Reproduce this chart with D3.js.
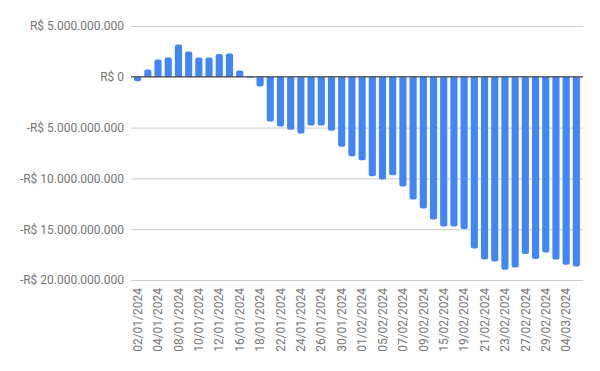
<!DOCTYPE html>
<html>
<head>
<meta charset="utf-8">
<script src="https://cdn.jsdelivr.net/npm/d3@7"></script>
<style>
  body { margin: 0; background: #fff; }
  svg text { font-family: Roboto, Arial, sans-serif; }
</style>
</head>
<body>
<div class="viz"></div>
<script>
// business days, jan-mar 2024
const dates = [
  '02/01/2024', '03/01/2024', '04/01/2024', '05/01/2024', '08/01/2024', '09/01/2024',
  '10/01/2024', '11/01/2024', '12/01/2024', '15/01/2024', '16/01/2024', '17/01/2024',
  '18/01/2024', '19/01/2024', '22/01/2024', '23/01/2024', '24/01/2024', '25/01/2024',
  '26/01/2024', '29/01/2024', '30/01/2024', '31/01/2024', '01/02/2024', '02/02/2024',
  '05/02/2024', '06/02/2024', '07/02/2024', '08/02/2024', '09/02/2024', '14/02/2024',
  '15/02/2024', '16/02/2024', '19/02/2024', '20/02/2024', '21/02/2024', '22/02/2024',
  '23/02/2024', '26/02/2024', '27/02/2024', '28/02/2024', '29/02/2024', '01/03/2024',
  '04/03/2024', '05/03/2024'
];

// saldo, in billions of R$
const values = [
  -0.43, 0.72, 1.71, 1.91, 3.19, 2.5,
  1.91, 1.91, 2.24, 2.3, 0.62, -0.1,
  -0.95, -4.41, -4.9, -5.2, -5.59, -4.8,
  -4.8, -5.3, -6.88, -7.83, -8.22, -9.8,
  -10.1, -9.7, -10.79, -12.07, -12.96, -14.05,
  -14.74, -14.74, -14.97, -16.9, -17.99, -18.19,
  -18.98, -18.78, -17.43, -17.93, -17.3, -17.99,
  -18.49, -18.68
];

const yTicks = [5, 0, -5, -10, -15, -20];

const width = 600, height = 371;
const margin = { top: 26, right: 17, bottom: 91, left: 131 };

const svg = d3.select('.viz')
  .append('svg')
  .attr('width', width)
  .attr('height', height);

const x = d3.scaleBand()
  .domain(dates)
  .range([margin.left, width - margin.right])
  .paddingInner(0.3)
  .paddingOuter(0.3);

const y = d3.scaleLinear()
  .domain([-20, 5])
  .range([height - margin.bottom, margin.top]);

const fmt = v => {
  if (v === 0) return 'R$ 0';
  const s = d3.format(',')(Math.abs(v) * 1e9).replace(/,/g, '.');
  return (v < 0 ? '-' : '') + 'R$ ' + s;
};

// gridlines + y labels
const yAxis = svg.append('g')
  .attr('transform', 'translate(' + margin.left + ',0)')
  .call(d3.axisLeft(y).tickValues(yTicks).tickFormat(fmt)
    .tickSize(-(width - margin.left - margin.right)).tickPadding(7));
yAxis.select('.domain').remove();
yAxis.selectAll('line').attr('stroke', '#cccccc');
yAxis.selectAll('text').attr('fill', '#757575').attr('font-size', 12);

// bars, rounded at the far end
const r = 2;
const bw = x.bandwidth();
svg.append('g')
  .selectAll('path')
  .data(values)
  .join('path')
  .attr('fill', '#4285f4')
  .attr('d', (d, i) => {
    const x0 = x(dates[i]), x1 = x0 + bw;
    const y0 = y(0), y1 = y(d);
    const h = Math.abs(y1 - y0);
    const rr = Math.min(r, h / 2);
    const s = d >= 0 ? 1 : -1;
    return 'M' + x0 + ',' + y0 +
      'L' + x0 + ',' + (y1 + s * rr) +
      'Q' + x0 + ',' + y1 + ' ' + (x0 + rr) + ',' + y1 +
      'L' + (x1 - rr) + ',' + y1 +
      'Q' + x1 + ',' + y1 + ' ' + x1 + ',' + (y1 + s * rr) +
      'L' + x1 + ',' + y0 + 'Z';
  });

// zero line
svg.append('line')
  .attr('x1', margin.left)
  .attr('x2', width - margin.right)
  .attr('y1', y(0))
  .attr('y2', y(0))
  .attr('stroke', '#333');

// x labels, every other date
const xAxis = svg.append('g')
  .attr('transform', 'translate(0,' + (height - margin.bottom) + ')')
  .call(d3.axisBottom(x).tickValues(dates.filter((d, i) => i % 2 === 0))
    .tickSize(0).tickPadding(0));
xAxis.select('.domain').remove();
xAxis.selectAll('text')
  .attr('fill', '#757575')
  .attr('font-size', 12)
  .attr('text-anchor', 'end')
  .attr('dy', '0.35em')
  .attr('transform', 'translate(0,8) rotate(-90)')
  .attr('y', 0)
  .attr('x', 0);
</script>
</body>
</html>
